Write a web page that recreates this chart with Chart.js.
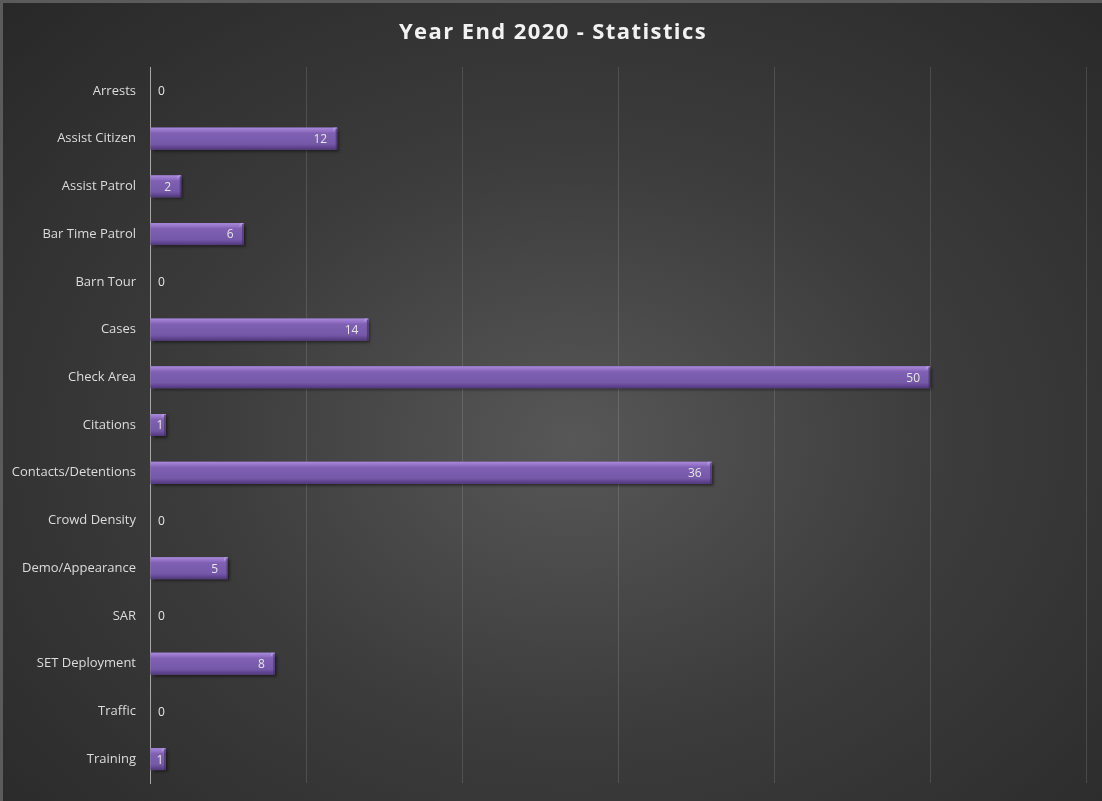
<!DOCTYPE html>
<html>
<head>
<meta charset="utf-8">
<script src="https://cdn.jsdelivr.net/npm/chart.js@4.4.1/dist/chart.umd.min.js"></script>
<style>
  html, body { margin: 0; padding: 0; background: #2b2b2b; }
  #wrap {
    position: relative; width: 1102px; height: 801px; overflow: hidden;
    background: radial-gradient(ellipse 75% 80% at 52% 55%, #575757 0%, #3c3c3c 45%, #272727 100%);
  }
  #wrap canvas { position: absolute; left: 0; top: 0; }
  .edge { position: absolute; background: #5b5b5b; }
</style>
</head>
<body>
<div id="wrap">
  <canvas id="statsChart" width="1102" height="801"></canvas>
  <div class="edge" style="left:0;top:0;width:1102px;height:3px"></div>
  <div class="edge" style="left:0;top:0;width:3px;height:801px"></div>
</div>
<script>
// categories and counts
const categories = ['Arrests', 'Assist Citizen', 'Assist Patrol', 'Bar Time Patrol', 'Barn Tour',
  'Cases', 'Check Area', 'Citations', 'Contacts/Detentions', 'Crowd Density',
  'Demo/Appearance', 'SAR', 'SET Deployment', 'Traffic', 'Training'];
const counts = [0, 12, 2, 6, 0, 14, 50, 1, 36, 0, 5, 0, 8, 0, 1];
const xTicks = [0, 10, 20, 30, 40, 50, 60];
const chartTitle = 'Year End 2020 - Statistics';

// beveled purple bars + value labels, drawn from the bar elements
const bevelBars = {
  id: 'bevelBars',
  afterDatasetsDraw(chart) {
    const ctx = chart.ctx;
    const meta = chart.getDatasetMeta(0);
    meta.data.forEach((bar, i) => {
      const v = counts[i];
      const left = bar.base, right = bar.x;
      const h = bar.height, top = bar.y - h / 2;
      const w = right - left;
      if (w > 0.5) {
        ctx.save();
        ctx.shadowColor = 'rgba(0,0,0,0.55)';
        ctx.shadowBlur = 3;
        ctx.shadowOffsetX = 2;
        ctx.shadowOffsetY = 2;
        ctx.fillStyle = '#7b5cae';
        ctx.fillRect(left, top, w, h);
        ctx.restore();

        const g = ctx.createLinearGradient(0, top, 0, top + h);
        g.addColorStop(0, '#aa8adb');
        g.addColorStop(0.18, '#8e6dc2');
        g.addColorStop(0.25, '#7f60b3');
        g.addColorStop(0.75, '#7658a9');
        g.addColorStop(0.85, '#684a9a');
        g.addColorStop(1, '#503878');
        ctx.fillStyle = g;
        ctx.fillRect(left, top, w, h);

        // sloped end cap
        const b = Math.min(4, w / 2);
        ctx.fillStyle = 'rgba(190,165,235,0.55)';
        ctx.beginPath();
        ctx.moveTo(right - b, top + b);
        ctx.lineTo(right, top);
        ctx.lineTo(right - b, top);
        ctx.closePath();
        ctx.fill();
        ctx.fillStyle = 'rgba(60,40,95,0.6)';
        ctx.fillRect(right - 1.5, top + 1, 1.5, h - 1);
      }

      ctx.save();
      ctx.font = '12px "Open Sans", sans-serif';
      ctx.fillStyle = '#e6e6e6';
      ctx.textBaseline = 'middle';
      const tw = ctx.measureText(String(v)).width;
      if (v === 0) {
        ctx.textAlign = 'left';
        ctx.fillText(String(v), left + 8, bar.y + 1);
      } else if (w > tw + 22) {
        ctx.textAlign = 'right';
        ctx.fillText(String(v), right - 10, bar.y + 1);
      } else {
        ctx.textAlign = 'center';
        ctx.fillText(String(v), left + w / 2 + 2, bar.y + 1);
      }
      ctx.restore();
    });
  },
  // letter-spaced title
  afterDraw(chart) {
    const ctx = chart.ctx;
    ctx.save();
    ctx.font = 'bold 22px "Open Sans", sans-serif';
    if ('letterSpacing' in ctx) ctx.letterSpacing = '1.4px';
    ctx.fillStyle = '#f2f2f2';
    ctx.textAlign = 'center';
    ctx.textBaseline = 'middle';
    ctx.fillText(chartTitle, chart.width / 2 + 2, 33);
    ctx.restore();
  }
};

new Chart(document.getElementById('statsChart'), {
  type: 'bar',
  data: {
    labels: categories,
    datasets: [{
      label: 'Statistics',
      data: counts,
      backgroundColor: 'rgba(0,0,0,0)',
      borderWidth: 0,
      barPercentage: 0.46,
      categoryPercentage: 1
    }]
  },
  options: {
    indexAxis: 'y',
    responsive: false,
    animation: false,
    layout: { padding: { left: 0, right: 16, bottom: 18, top: 67 } },
    plugins: {
      legend: { display: false },
      tooltip: { enabled: false },
      title: { display: false }
    },
    scales: {
      x: {
        min: xTicks[0],
        max: xTicks[xTicks.length - 1],
        afterBuildTicks(scale) { scale.ticks = xTicks.map(v => ({ value: v })); },
        afterFit(scale) { scale.height = 0; scale.paddingLeft = 0; scale.paddingRight = 0; },
        ticks: { display: false },
        grid: { color: 'rgba(255,255,255,0.13)', drawTicks: false },
        border: { display: false }
      },
      y: {
        afterFit(scale) { scale.width = 150; scale.paddingTop = 0; scale.paddingBottom = 0; },
        ticks: {
          color: '#dcdcdc',
          padding: 14,
          font: { family: '"Open Sans", sans-serif', size: 13 }
        },
        grid: { display: false, drawTicks: false },
        border: { display: true, color: '#a6a6a6', width: 1 }
      }
    }
  },
  plugins: [bevelBars]
});
</script>
</body>
</html>
